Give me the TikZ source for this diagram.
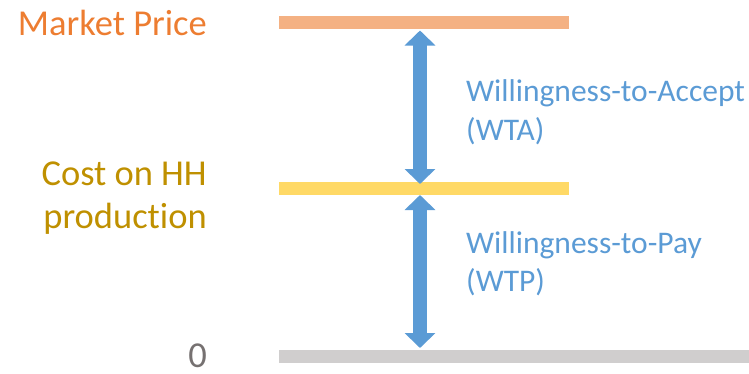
\documentclass[tikz,border=0pt]{standalone}
\usepackage{fontspec}
\setmainfont[Ligatures=NoCommon]{Carlito}
\usetikzlibrary{arrows.meta}
\definecolor{mporange}{HTML}{ED7D31}
\definecolor{mpbarc}{HTML}{F4B183}
\definecolor{costtext}{HTML}{BF9000}
\definecolor{costbarc}{HTML}{FFD966}
\definecolor{zerobarc}{HTML}{D0CECE}
\definecolor{zerotext}{HTML}{767171}
\definecolor{wblue}{HTML}{5B9BD5}
\tikzset{
  bar/.style={inner sep=0pt, outer sep=0pt, minimum height=12.5pt, anchor=north west},
  lefttext/.style={inner sep=0pt, anchor=base east, font=\fontsize{36.5}{43}\selectfont},
  righttext/.style={inner sep=0pt, anchor=base west, text=wblue, font=\fontsize{31.5}{39}\selectfont},
  bigarrow/.style={draw=wblue, line width=14pt, {Triangle[width=30pt,length=15pt]}-{Triangle[width=30pt,length=15pt]}}
}
\begin{document}
\begin{tikzpicture}[x=1pt,y=-1pt]
\useasboundingbox (0,0) rectangle (749,373);
% bars
\node[bar, fill=mpbarc, minimum width=290pt] (mpbar) at (279,16.3) {};
\node[bar, fill=costbarc, minimum width=290pt] (costbar) at (279,182) {};
\node[bar, fill=zerobarc, minimum width=470pt] (zerobar) at (279,350) {};
% left labels
\node[lefttext, text=mporange] (mp) at (207,35) {Market Price};
\node[lefttext, text=costtext] (costA) at (207,185) {Cost on HH};
\node[lefttext, text=costtext] (costB) at (207,228) {production};
\node[lefttext, text=zerotext] (zero) at (207,367.5) {0};
% arrows
\coordinate (a1top) at (420,30.5);
\coordinate (a1bot) at (420,184);
\coordinate (a2top) at (420,195);
\coordinate (a2bot) at (420,348);
\draw[bigarrow] (a1top) -- (a1bot);
\draw[bigarrow] (a2top) -- (a2bot);
% right labels
\node[righttext] (wtaA) at (466,101) {Willingness-to-Accept};
\node[righttext] (wtaB) at (466,140) {(WTA)};
\node[righttext] (wtpA) at (466,253.3) {Willingness-to-Pay};
\node[righttext] (wtpB) at (466,291.7) {(WTP)};
\end{tikzpicture}
\end{document}
